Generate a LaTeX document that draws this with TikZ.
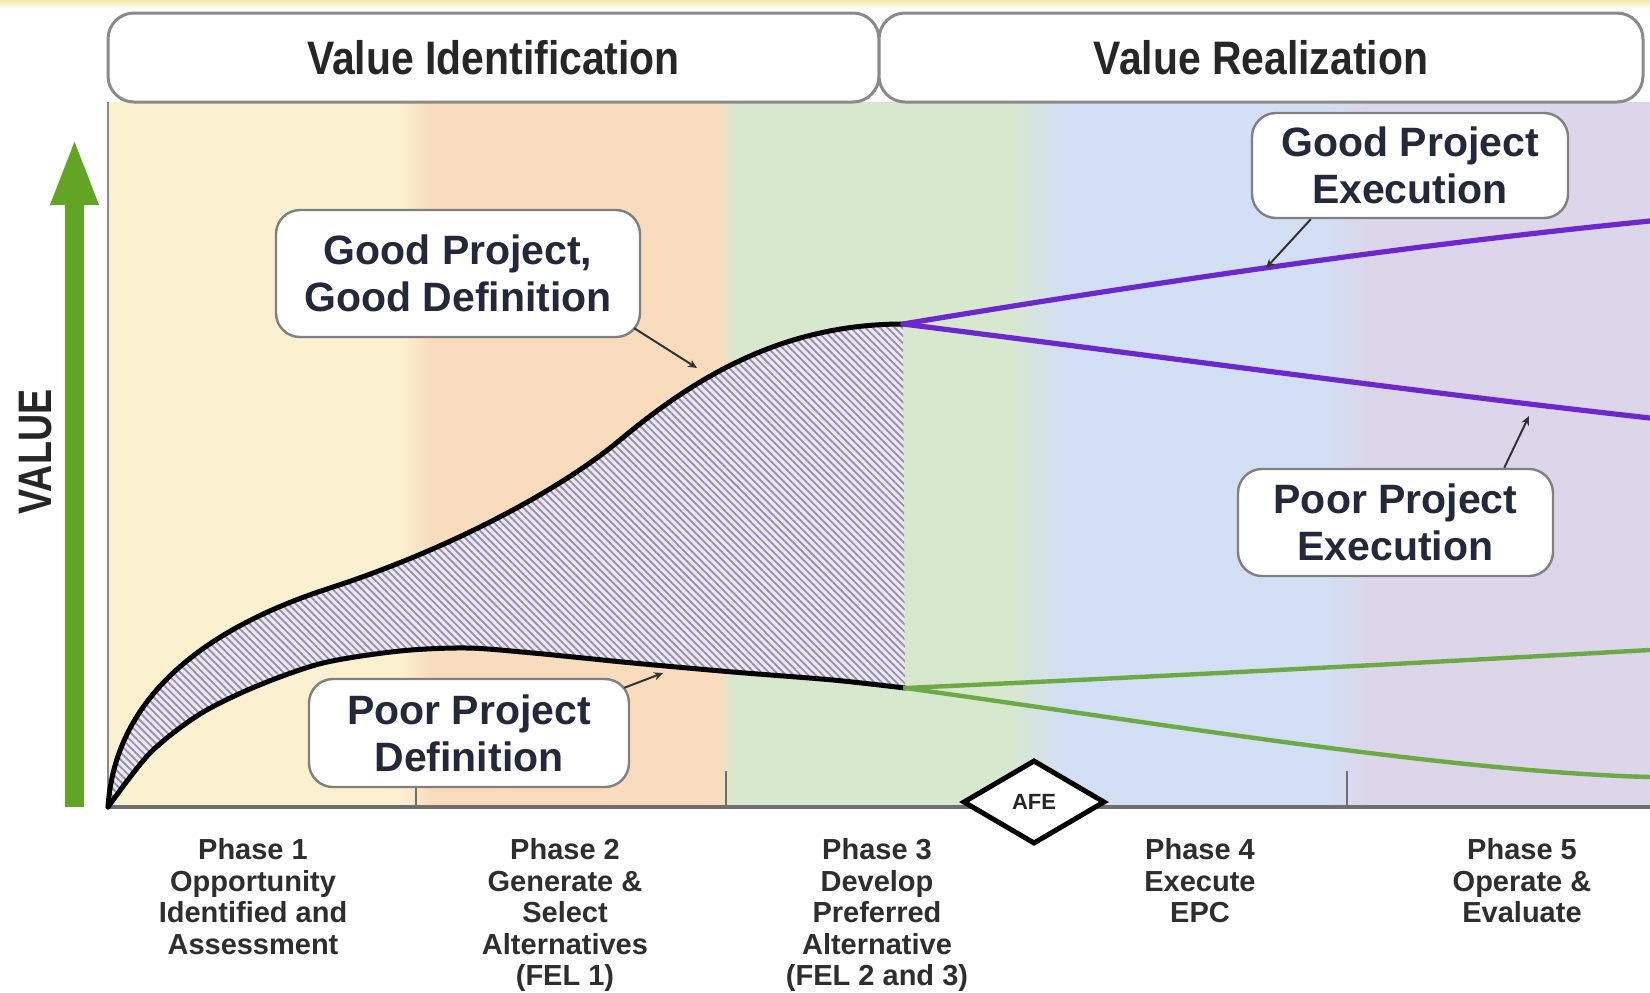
\documentclass[tikz,border=0pt]{standalone}
\usepackage{fontspec}
\setmainfont{Liberation Sans}
\newfontfamily\condfont[FakeStretch=0.87]{Liberation Sans}
\newfontfamily\valfont[FakeStretch=0.80]{Liberation Sans}
\usetikzlibrary{shapes.geometric,arrows.meta,patterns.meta,calc}
\definecolor{bandY}{HTML}{FBF0D0}
\definecolor{bandO}{HTML}{F9DCBE}
\definecolor{bandG}{HTML}{D8E8CE}
\definecolor{bandB}{HTML}{D3DFF4}
\definecolor{bandP}{HTML}{DDD5EA}
\definecolor{topyellow}{HTML}{F2E9A8}
\definecolor{hdrgray}{HTML}{8A8A8A}
\definecolor{cgray}{HTML}{808080}
\definecolor{ctext}{HTML}{23283A}
\definecolor{ptext}{HTML}{2E2E2E}
\definecolor{arrowgreen}{HTML}{62A423}
\definecolor{purp}{RGB}{108,40,205}
\definecolor{lgreen}{HTML}{6DAA45}
\definecolor{hatchbg}{HTML}{EEE9F0}
\definecolor{hatchfg}{HTML}{9891B2}
\definecolor{axisgray}{HTML}{6E6E6E}
\begin{document}
\begin{tikzpicture}[x=0.5pt,y=-0.5pt,
  hdrbox/.style={draw=hdrgray, line width=1.5pt, fill=white, rounded corners=13pt,
    font=\condfont\bfseries\fontsize{23.5}{26}\selectfont, text=black!85, inner sep=0pt},
  callout/.style={draw=cgray, line width=1.2pt, fill=white, rounded corners=12pt,
    align=center, font=\bfseries\fontsize{20.5}{23.5}\selectfont, text=ctext, inner sep=0pt},
  phaselbl/.style={anchor=north, align=center, inner sep=0pt,
    font=\bfseries\fontsize{14.5}{15.8}\selectfont, text=ptext},
  leader/.style={draw=black!80, line width=1pt, -{Stealth[length=4.5pt,width=4pt]}},
  curve/.style={draw=black, line width=2.5pt, line cap=round, line join=round},
  purpline/.style={draw=purp, line width=2.6pt, line cap=round},
  greenline/.style={draw=lgreen, line width=2.2pt, line cap=round},
  tick/.style={draw=axisgray, line width=1pt}
]
\useasboundingbox (0,0) rectangle (1650,992);
\fill[white] (0,0) rectangle (1650,992);
\shade[top color=topyellow, bottom color=white] (0,0) rectangle (1650,9);

% phase bands
\fill[bandY] (108,102) rectangle (416,807);
\fill[bandO] (416,102) rectangle (726,807);
\fill[bandG] (726,102) rectangle (1036,807);
\fill[bandB] (1036,102) rectangle (1347,807);
\fill[bandP] (1347,102) rectangle (1650,807);
\shade[left color=bandY, right color=bandO] (402,102) rectangle (430,807);
\shade[left color=bandO, right color=bandG] (718,102) rectangle (734,807);
\shade[left color=bandG, right color=bandB] (1008,102) rectangle (1062,807);
\shade[left color=bandB, right color=bandP] (1328,102) rectangle (1368,807);

% left border and baseline
\coordinate (O) at (108,807);
\coordinate (R) at (1650,807);
\coordinate (LT) at (108,102);
\draw[draw=hdrgray, line width=1pt] (LT) -- (O);
\draw[draw=axisgray, line width=1.6pt] (O) -- (R);
\foreach \tx in {416,726,1347} \draw[tick] (\tx,771) -- (\tx,807);

% hatched region
\coordinate (U) at (903,324);
\coordinate (L) at (905,688);
\def\upperpath{(O) .. controls (115,700) and (200,630) .. (330,588)
  .. controls (450,549) and (560,490) .. (620,440)
  .. controls (692,380) and (780,324) .. (U)}
\def\lowerrev{(905,688) (833,680) (733,672) (633,663) (533,653) (467,648) (400,651) (323,663) (257,686) (200,714) (150,753) (108,807)}
\fill[hatchbg] \upperpath -- plot[smooth] coordinates {\lowerrev} -- cycle;
\fill[pattern={Lines[angle=-45,distance=2.6pt,line width=0.95pt]}, pattern color=hatchfg]
  \upperpath -- plot[smooth] coordinates {\lowerrev} -- cycle;
\draw[curve] \upperpath;
\draw[curve] plot[smooth] coordinates {\lowerrev};

% execution lines
\coordinate (GE) at (1650,221);
\coordinate (PE) at (1650,418);
\coordinate (GG) at (1650,650);
\coordinate (PG) at (1650,777);
\draw[purpline] (U) .. controls (1150,283) and (1400,246) .. (GE);
\draw[purpline] (U) .. controls (1150,355) and (1400,390) .. (PE);
\draw[greenline] (L) .. controls (1150,677) and (1400,664) .. (GG);
\draw[greenline] (L) .. controls (1150,722) and (1450,772) .. (PG);

% value arrow
\coordinate (vb) at (74.5,807);
\coordinate (vt) at (74.5,137);
\draw[draw=arrowgreen, line width=9.5pt, -{Triangle[length=34pt,width=21.5pt]}] (vb) -- (vt);
\node[rotate=90, inner sep=0pt, font=\valfont\bfseries\fontsize{23.5}{26}\selectfont, text=black!85] (value) at (36,452) {VALUE};

% headers
\node[hdrbox, minimum width=385.5pt, minimum height=44.5pt] (vi) at (493.5,57.5) {Value Identification};
\node[hdrbox, minimum width=382pt, minimum height=44.5pt] (vr) at (1261,57.5) {Value Realization};

% callouts
\node[callout, minimum width=182pt, minimum height=63.5pt] (gpgd) at (458,273.5) {Good Project,\\Good Definition};
\node[callout, minimum width=158pt, minimum height=52.5pt] (gpe) at (1410,165.5) {Good Project\\Execution};
\node[callout, minimum width=157.5pt, minimum height=53.5pt] (ppe) at (1395.5,522.5) {Poor Project\\Execution};
\node[callout, minimum width=160pt, minimum height=54pt] (ppd) at (469,733) {Poor Project\\Definition};

\coordinate (gpgdTip) at (697,368);
\coordinate (gpeTip) at (1266,268);
\coordinate (ppeTip) at (1529,416);
\coordinate (ppdTip) at (663,673);
\draw[leader] ($(gpgd.south east)+(-7,-10)$) -- (gpgdTip);
\draw[leader] ($(gpe.south west)+(60,0)$) -- (gpeTip);
\draw[leader] ($(ppe.north east)+(-50,0)$) -- (ppeTip);
\draw[leader] ($(ppd.north east)+(-6,10)$) -- (ppdTip);

% AFE milestone
\node[diamond, draw=black, line width=2.5pt, fill=white, minimum width=71pt, minimum height=42pt,
  inner sep=0pt, font=\bfseries\fontsize{11}{12}\selectfont, text=black!85] (afe) at (1034,802) {AFE};

% phase labels
\node[phaselbl] (ph1) at (253,838) {Phase 1\\Opportunity\\Identified and\\Assessment};
\node[phaselbl] (ph2) at (565,838) {Phase 2\\Generate \&\\Select\\Alternatives\\(FEL 1)};
\node[phaselbl] (ph3) at (877,838) {Phase 3\\Develop\\Preferred\\Alternative\\(FEL 2 and 3)};
\node[phaselbl] (ph4) at (1200,838) {Phase 4\\Execute\\EPC};
\node[phaselbl] (ph5) at (1522,838) {Phase 5\\Operate \&\\Evaluate};
\end{tikzpicture}
\end{document}
